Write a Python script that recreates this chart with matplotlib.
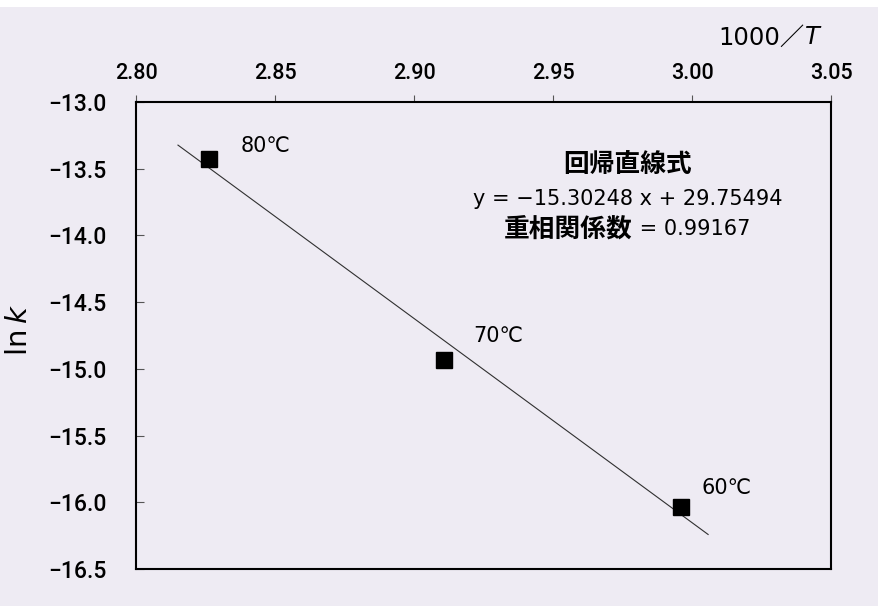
import numpy as np
import matplotlib
matplotlib.use("Agg")
import matplotlib.pyplot as plt
from matplotlib.patches import Rectangle

plt.rcParams['font.family'] = ['Roboto', 'DejaVu Sans', 'Noto Sans CJK JP']
plt.rcParams['font.weight'] = 'medium'
plt.rcParams['mathtext.fontset'] = 'dejavusans'
plt.rcParams['axes.unicode_minus'] = True

# Arrhenius plot data: 1000/T against ln k
inv_temp = [2.8263, 2.9108, 2.9960]
ln_k = [-13.427, -14.934, -16.035]
point_labels = ["80℃", "70℃", "60℃"]
label_offsets = [(23, 9), (21, 17), (15, 14)]   # points

slope = -15.30248
intercept = 29.75494
corr = 0.99167
fit_range = [2.8151, 3.0058]

xticks = [2.80, 2.85, 2.90, 2.95, 3.00, 3.05]
yticks = [-13.0, -13.5, -14.0, -14.5, -15.0, -15.5, -16.0, -16.5]

bg = '#eeebf3'
jp = ['Noto Sans CJK JP', 'DejaVu Sans']
latin = ['DejaVu Sans', 'Noto Sans CJK JP']

fig = plt.figure(figsize=(8.79, 6.06), dpi=100, facecolor=bg)
fig.patches.append(Rectangle((0, 1 - 7 / 606), 1, 7 / 606, transform=fig.transFigure,
                             facecolor='white', edgecolor='none', zorder=0))
ax = fig.add_axes([136 / 879, 1 - 569 / 606, 695 / 879, 467 / 606])
ax.set_facecolor(bg)

# regression line
fx = np.array(fit_range)
ax.plot(fx, slope * fx + intercept, color='#303030', lw=0.8, zorder=2)

ax.plot(inv_temp, ln_k, 's', color='black', markersize=12, zorder=3)
for x, y, lab, off in zip(inv_temp, ln_k, point_labels, label_offsets):
    ax.annotate(lab, (x, y), xytext=off, textcoords='offset points',
                ha='left', va='center', fontsize=15, family=latin)

ax.set_xlim(2.80, 3.05)
ax.set_ylim(-16.5, -13.0)
ax.set_xticks(xticks)
ax.set_xticklabels(["%.2f" % v for v in xticks])
ax.set_yticks(yticks)
ax.set_yticklabels([("%.1f" % v).replace('-', '\u2212') for v in yticks])

ax.xaxis.tick_top()
ax.tick_params(axis='x', direction='out', length=5, width=0.8, color='#555555',
               labelsize=15.5, pad=8)
ax.tick_params(axis='y', direction='in', length=6, width=0.8, color='#555555',
               labelsize=16.5, pad=21)
for s in ax.spines.values():
    s.set_linewidth(1.5)
    s.set_color('black')

ax.set_ylabel(r"$\mathrm{ln}\:k$", fontsize=21)
ax.yaxis.set_label_coords(-0.148, (569 - 330) / 467)

t1 = fig.text(804 / 879, 1 - 38 / 606, "1000／", ha='right', va='center',
              fontsize=17.5, family=latin)
ax.annotate(r"$T$", xy=(1, 0.5), xycoords=t1, ha='left', va='center', fontsize=17.5)

# regression summary
eq_x = 628
ax.text(eq_x / 879, 1 - 165 / 606, "回帰直線式", transform=fig.transFigure,
        ha='center', va='center', fontsize=18.5, fontweight='bold', family=jp)
ax.text(eq_x / 879, 1 - 199 / 606,
        "y = \u2212%.5f x + %.5f" % (-slope, intercept),
        transform=fig.transFigure, ha='center', va='center', fontsize=15, family=latin)
t3a = ax.text(633 / 879, 1 - 229 / 606, "重相関係数", transform=fig.transFigure,
              ha='right', va='center', fontsize=18.5, fontweight='bold', family=jp)
ax.annotate(" = %.5f" % corr, xy=(1, 0.5), xycoords=t3a, ha='left', va='center',
            fontsize=15, family=latin)

fig.savefig("out.png", dpi=100, facecolor=bg)
